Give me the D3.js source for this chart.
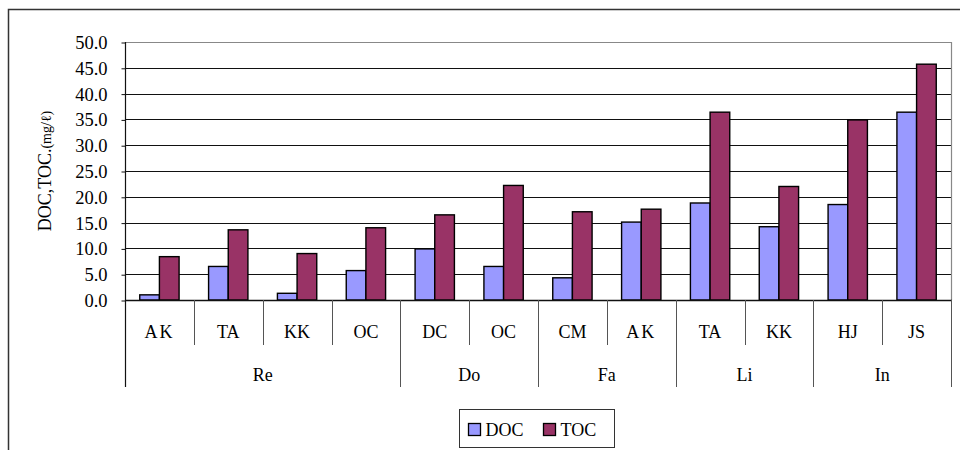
<!DOCTYPE html>
<html>
<head>
<meta charset="utf-8">
<script src="https://cdn.jsdelivr.net/npm/d3@7"></script>
<style>
  body { margin: 0; background: #fff; }
  svg { display: block; font-family: "Liberation Serif", "Times New Roman", serif; }
</style>
</head>
<body>
<svg id="chart" width="960" height="450"></svg>
<script>
// Sampling sites (sub-category) and their group (main category)
const sites  = ["AK", "TA", "KK", "OC", "DC", "OC", "CM", "AK", "TA", "KK", "HJ", "JS"];
const groups = ["Re", "Re", "Re", "Re", "Do", "Do", "Fa", "Fa", "Li", "Li", "In", "In"];
// Concentrations in mg/L
const docValues = [1.0, 6.5, 1.3, 5.7, 9.9, 6.5, 4.3, 15.1, 18.8, 14.2, 18.5, 36.4];
const tocValues = [8.4, 13.6, 9.0, 14.0, 16.5, 22.2, 17.1, 17.6, 36.4, 22.0, 34.9, 45.7];
const yTicks = [0, 5, 10, 15, 20, 25, 30, 35, 40, 45, 50];
const seriesNames = ["DOC", "TOC"];
const seriesColors = ["#9999FF", "#993366"];

const svg = d3.select("#chart");
const plot = { left: 125, top: 42, right: 951, bottom: 300 };

// Outer chart frame (continues past the right and bottom edges)
svg.append("path")
  .attr("d", "M8.5,460 L8.5,9.5 L970,9.5")
  .attr("fill", "none").attr("stroke", "#333").attr("stroke-width", 1.5);

const idx = d3.range(sites.length);
const x = d3.scaleBand().domain(idx).range([plot.left, plot.right]).paddingInner(0).paddingOuter(0);
const y = d3.scaleLinear().domain([0, 50]).range([plot.bottom, plot.top]);
// Gap width of 150%: two bars + 1.5 bar-widths of gap per category
const xs = d3.scaleBand().domain([0, 1]).range([0, x.bandwidth()]).paddingInner(0).paddingOuter(0.75);

// Horizontal gridlines
svg.append("g").selectAll("line").data(yTicks.filter(t => t > 0 && t < 50)).join("line")
  .attr("x1", plot.left).attr("x2", plot.right)
  .attr("y1", d => Math.round(y(d)) + 0.5).attr("y2", d => Math.round(y(d)) + 0.5)
  .attr("stroke", "#111").attr("stroke-width", 1);

// Plot area border (top and right)
svg.append("path")
  .attr("d", `M${plot.left},${Math.round(y(50)) + 0.5} L${plot.right + 0.5},${Math.round(y(50)) + 0.5} L${plot.right + 0.5},${plot.bottom}`)
  .attr("fill", "none").attr("stroke", "#888").attr("stroke-width", 1.2);

// Bars
const series = [docValues, tocValues];
series.forEach((vals, s) => {
  svg.append("g").selectAll("rect").data(idx).join("rect")
    .attr("x", i => x(i) + xs(s))
    .attr("y", i => y(vals[i]))
    .attr("width", xs.bandwidth())
    .attr("height", i => y(0) - y(vals[i]))
    .attr("fill", seriesColors[s])
    .attr("stroke", "#000").attr("stroke-width", 1.4);
});

// Y axis
const yAxis = d3.axisLeft(y).tickValues(yTicks).tickFormat(d3.format(".1f")).tickSize(4).tickPadding(14);
const ya = svg.append("g").attr("transform", `translate(${plot.left + 0.5},0.5)`).call(yAxis);
ya.select(".domain").remove();
ya.selectAll(".tick line").attr("stroke", "#111");
ya.selectAll(".tick text").attr("font-size", 18.5).attr("fill", "#000")
  .attr("font-family", "Liberation Serif, Times New Roman, serif");

// Y axis line extending through category label area
svg.append("line")
  .attr("x1", plot.left + 0.5).attr("x2", plot.left + 0.5)
  .attr("y1", plot.top).attr("y2", 387)
  .attr("stroke", "#111").attr("stroke-width", 1.2);

// Zero line
svg.append("line")
  .attr("x1", plot.left).attr("x2", plot.right + 1)
  .attr("y1", y(0) + 0.5).attr("y2", y(0) + 0.5)
  .attr("stroke", "#111").attr("stroke-width", 1.5);

// Y axis title
const yt = svg.append("text")
  .attr("transform", `translate(51,${(plot.top + plot.bottom) / 2}) rotate(-90)`)
  .attr("text-anchor", "middle").attr("font-size", 18).attr("fill", "#000");
yt.append("tspan").text("DOC,TOC.");
yt.append("tspan").attr("font-size", 14).text("(mg/ℓ)");

// Category separators: short ones between sites, long ones between groups
const boundaries = d3.range(1, sites.length + 1);
svg.append("g").selectAll("line").data(boundaries).join("line")
  .attr("x1", i => Math.round(i < sites.length ? x(i) : plot.right) + 0.5)
  .attr("x2", i => Math.round(i < sites.length ? x(i) : plot.right) + 0.5)
  .attr("y1", plot.bottom)
  .attr("y2", i => (i === sites.length || groups[i] !== groups[i - 1]) ? 387 : 345)
  .attr("stroke", "#555").attr("stroke-width", 1);

// Site labels
svg.append("g").selectAll("text").data(idx).join("text")
  .attr("x", i => x(i) + x.bandwidth() / 2)
  .attr("y", 338)
  .attr("text-anchor", "middle").attr("font-size", 18).attr("fill", "#000")
  .attr("letter-spacing", i => sites[i] === "AK" ? 2 : 0)
  .text(i => sites[i]);

// Group labels centred under their sites
const groupNames = Array.from(new Set(groups));
svg.append("g").selectAll("text").data(groupNames).join("text")
  .attr("x", g => {
    const members = idx.filter(i => groups[i] === g);
    return (x(members[0]) + x(members[members.length - 1]) + x.bandwidth()) / 2;
  })
  .attr("y", 381)
  .attr("text-anchor", "middle").attr("font-size", 18).attr("fill", "#000")
  .text(g => g);

// Legend
const legend = svg.append("g").attr("transform", "translate(459.5,409.5)");
legend.append("rect").attr("width", 155).attr("height", 38)
  .attr("fill", "#fff").attr("stroke", "#333").attr("stroke-width", 1);
const legendX = [9, 84];
seriesNames.forEach((name, s) => {
  const item = legend.append("g").attr("transform", `translate(${legendX[s]},0)`);
  item.append("rect").attr("x", 0).attr("y", 14).attr("width", 12).attr("height", 12)
    .attr("fill", seriesColors[s]).attr("stroke", "#000").attr("stroke-width", 1.3);
  item.append("text").attr("x", 17).attr("y", 26).attr("font-size", 18).attr("fill", "#000").text(name);
});
</script>
</body>
</html>
